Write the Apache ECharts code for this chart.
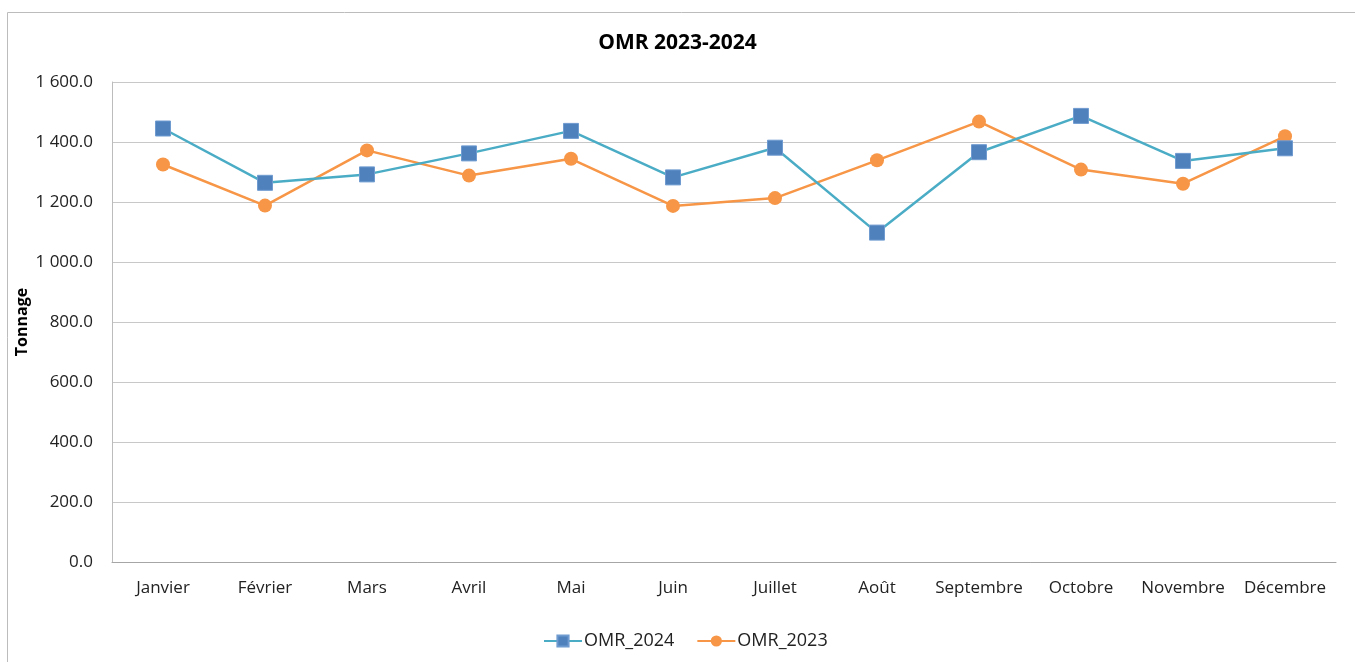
<!DOCTYPE html>
<html>
<head>
<meta charset="utf-8">
<script src="https://cdn.jsdelivr.net/npm/echarts@6/dist/echarts.min.js"></script>
<style>
  html, body { margin: 0; padding: 0; background: #fff; }
  #chart { width: 1355px; height: 662px; }
</style>
</head>
<body>
<div id="chart"></div>
<script>
// mois
const months = ['Janvier', 'Février', 'Mars', 'Avril', 'Mai', 'Juin', 'Juillet', 'Août', 'Septembre', 'Octobre', 'Novembre', 'Décembre']
// tonnages
const omr2024 = [1445, 1264, 1292, 1362, 1437, 1282, 1381, 1098, 1366, 1487, 1337, 1379]
const omr2023 = [1325, 1188, 1372, 1288, 1344, 1187, 1213, 1339, 1468, 1308, 1261, 1419]

const font = 'Open Sans'

function fmt(v) {
  let s = v.toFixed(1)
  let parts = s.split('.')
  parts[0] = parts[0].replace(/\B(?=(\d{3})+(?!\d))/g, ' ')
  return parts.join('.')
}

let myChart = echarts.init(document.getElementById('chart'))
myChart.setOption({
  animation: false,
  textStyle: { fontFamily: font },
  title: {
    text: 'OMR 2023-2024',
    left: 'center',
    top: 28,
    textStyle: { fontFamily: font, fontSize: 21, fontWeight: 'bold', color: '#000' }
  },
  graphic: [
    {
      type: 'rect',
      shape: { x: 7.5, y: 12.5, width: 1400, height: 700 },
      style: { fill: 'none', stroke: '#bcbcbc', lineWidth: 1 },
      silent: true
    }
  ],
  legend: {
    bottom: 7,
    left: 538,
    itemWidth: 38,
    itemHeight: 14,
    itemGap: 22,
    textStyle: { fontFamily: font, fontSize: 18, color: '#222', padding: [0, 0, 0, -3] },
    data: ['OMR_2024', 'OMR_2023']
  },
  grid: { left: 112, right: 19, top: 82, bottom: 100, containLabel: false, outerBoundsMode: 'none' },
  xAxis: {
    type: 'category',
    data: months,
    boundaryGap: true,
    axisLine: { lineStyle: { color: '#a6a6a6' } },
    axisTick: { show: false },
    axisLabel: { color: '#222', fontSize: 17, margin: 18, fontFamily: font, interval: 0 }
  },
  yAxis: {
    type: 'value',
    min: 0,
    max: 1600,
    interval: 200,
    name: 'Tonnage',
    nameLocation: 'middle',
    nameGap: 82,
    nameMoveOverlap: false,
    nameRotate: 90,
    nameTextStyle: { fontFamily: font, fontSize: 16, fontWeight: 'bold', color: '#000' },
    axisLine: { show: true, lineStyle: { color: '#bcbcbc' } },
    axisTick: { show: false },
    splitLine: { lineStyle: { color: '#c8c8c8' } },
    axisLabel: { color: '#222', fontSize: 17, margin: 19, fontFamily: font, formatter: fmt }
  },
  series: [
    {
      name: 'OMR_2024',
      type: 'line',
      data: omr2024,
      symbol: 'rect',
      symbolSize: 15,
      lineStyle: { color: '#4bacc6', width: 2.5 },
      itemStyle: { color: '#4f81bd', borderColor: '#6f9bd0', borderWidth: 1 },
      z: 3
    },
    {
      name: 'OMR_2023',
      type: 'line',
      data: omr2023,
      symbol: 'circle',
      symbolSize: 14,
      lineStyle: { color: '#f79646', width: 2.5 },
      itemStyle: { color: '#f79646' },
      z: 2
    }
  ]
})
</script>
</body>
</html>
